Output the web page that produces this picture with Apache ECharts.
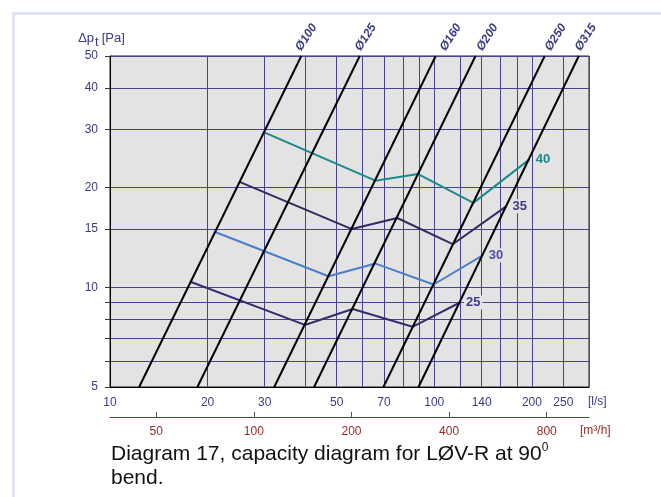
<!DOCTYPE html>
<html><head><meta charset="utf-8">
<script src="https://cdn.jsdelivr.net/npm/echarts@6/dist/echarts.min.js"></script>
<style>html,body{margin:0;padding:0;background:#fff}#c{width:661px;height:497px}</style>
</head><body><div id="c"></div>
<script>
// ---------- data ----------
const xMin = 10, xMax = 300;          // l/s
const yMin = 5, yMax = 50;            // Pa
const xTickValues = [10,20,30,40,50,60,70,80,90,100,120,140,160,180,200,250,300];
const xLabelValues = [10,20,30,50,70,100,140,200,250];
const yTickValues = [5,6,7,8,9,10,15,20,30,40,50];
const yLabelValues = [5,10,15,20,30,40,50];
const m3hLabelValues = [50,100,200,400,800];
const lsToM3h = 3.6;

const diamNames = ['Ø100','Ø125','Ø160','Ø200','Ø250','Ø315'];
const diamFlowAt5Pa  = [12.3, 18.6, 32.1, 42.6, 69.7, 89.4];
const diamFlowAt50Pa = [38.9, 58.9, 101, 134, 219, 279];

const curveNames = ['25','30','35','40'];
const curve25Flow = [17.7, 39.9, 56.0, 85.7, 120];
const curve25Pa   = [10.4, 7.7, 8.6, 7.6, 9.0];
const curve30Flow = [21.1, 47.2, 65.9, 99.5, 141];
const curve30Pa   = [14.7, 10.8, 11.8, 10.2, 12.5];
const curve35Flow = [25.2, 55.7, 76.9, 114, 167];
const curve35Pa   = [20.8, 15.0, 16.2, 13.5, 17.6];
const curve40Flow = [29.9, 65.8, 89.2, 132, 197];
const curve40Pa   = [29.4, 21.0, 22.0, 18.0, 24.4];

// ---------- style ----------
const FONT = '"Liberation Sans", Arial, Helvetica, sans-serif';
const NAVY = '#3b3a85';
const GRIDC = '#464490';
const RED = '#962a2a';
const PLOTBG = '#e3e3e3';
const curveStyles = [
  {line:'#352d6f', label:'#3d3a85'},
  {line:'#4a80c8', label:'#4f4fa5'},
  {line:'#36295f', label:'#3d3a85'},
  {line:'#1a8a8a', label:'#1a8a8a'}
];
const diamLabelDx = [2, 3, 12, 9, 8, 4];

const curveFlows = [curve25Flow, curve30Flow, curve35Flow, curve40Flow];
const curvePas = [curve25Pa, curve30Pa, curve35Pa, curve40Pa];

const chart = echarts.init(document.getElementById('c'), null, {renderer:'canvas'});

const series = [];
curveNames.forEach((n, k) => {
  series.push({
    type:'line', name:'c'+n, xAxisIndex:0, yAxisIndex:0,
    data: curveFlows[k].map((q,i)=>[q, curvePas[k][i]]),
    symbol:'none', showSymbol:false, silent:true, z:3,
    lineStyle:{color:curveStyles[k].line, width:2},
    endLabel:{show:true, formatter:n, color:curveStyles[k].label, fontWeight:'bold',
      fontSize:13, fontFamily:FONT, distance:4, backgroundColor:PLOTBG, padding:[1,2,0,2]}
  });
});
diamNames.forEach((n,i)=>{
  series.push({
    type:'line', name:n, xAxisIndex:0, yAxisIndex:0,
    data:[[diamFlowAt5Pa[i], yMin],[diamFlowAt50Pa[i], yMax]],
    symbol:'none', showSymbol:false, silent:true, z:4,
    lineStyle:{color:'#000', width:2}
  });
});

chart.setOption({
  animation:false,
  backgroundColor:'#fff',
  textStyle:{fontFamily:FONT},
  grid:{left:110, top:56, right:72, bottom:110, show:true, backgroundColor:PLOTBG,
        borderColor:'#222', borderWidth:1, containLabel:false, outerBoundsMode:'none'},
  title:{
    left:106, top:437,
    text:'{m|Diagram 17, capacity diagram for LØV-R at 90}{p|0}\n{m|bend.}',
    textStyle:{fontWeight:'normal', rich:{
      m:{fontSize:21, lineHeight:24, color:'#111', fontWeight:'normal', fontFamily:FONT},
      p:{fontSize:12, lineHeight:12, verticalAlign:'top', color:'#111', fontWeight:'normal', fontFamily:FONT}
    }}
  },
  xAxis:[{
    type:'log', logBase:10, min:xMin, max:xMax, position:'bottom',
    axisLine:{show:true, onZero:false, lineStyle:{color:'#000', width:1}},
    axisTick:{show:false, customValues:xTickValues},
    axisLabel:{customValues:xLabelValues, color:NAVY, fontSize:12, margin:10, fontFamily:FONT},
    splitLine:{show:true, lineStyle:{color:GRIDC, width:1}},
    name:'[l/s]', nameLocation:'end', nameGap:-1,
    nameTextStyle:{color:NAVY, fontSize:12, fontFamily:FONT, verticalAlign:'top', padding:[9,0,0,0]}
  },{
    type:'log', logBase:10, min:xMin*lsToM3h, max:xMax*lsToM3h, position:'bottom', offset:30,
    axisLine:{show:true, onZero:false, lineStyle:{color:RED, width:1}},
    axisTick:{show:true, inside:true, length:5, customValues:m3hLabelValues, lineStyle:{color:'#555'}},
    axisLabel:{customValues:m3hLabelValues, color:RED, fontSize:12, margin:9, fontFamily:FONT},
    splitLine:{show:false},
    name:'[m³/h]', nameLocation:'end', nameGap:-9,
    nameTextStyle:{color:RED, fontSize:12, fontFamily:FONT, verticalAlign:'top', padding:[8,0,0,0]}
  }],
  yAxis:[{
    type:'log', logBase:10, min:yMin, max:yMax,
    axisLine:{show:true, onZero:false, lineStyle:{color:'#000', width:1}},
    axisTick:{show:true, length:5, customValues:yTickValues, lineStyle:{color:'#333'}},
    axisLabel:{customValues:yLabelValues, color:NAVY, fontSize:12, margin:12, fontFamily:FONT},
    splitLine:{show:true, lineStyle:{color:GRIDC, width:1}},
    name:'{d|Δp}{s|t}{d|[Pa]}', nameLocation:'end', nameGap:3,
    nameTextStyle:{padding:[0,17,0,0], rich:{
      d:{color:NAVY, fontSize:13, lineHeight:15, verticalAlign:'top', fontFamily:FONT},
      s:{color:NAVY, fontSize:13, lineHeight:21, padding:[0,3,0,1], fontFamily:FONT}
    }}
  }],
  series: series
});

// diameter labels at the top ends of the lines + outer frame
const gfx = [{type:'rect', z:-10, shape:{x:13.5, y:13.5, width:800, height:700},
              style:{fill:'none', stroke:'#d9def2', lineWidth:2.5}}];
diamNames.forEach((n,i)=>{
  const p = chart.convertToPixel({xAxisIndex:0, yAxisIndex:0}, [diamFlowAt50Pa[i], yMax]);
  gfx.push({type:'text', x:p[0]+diamLabelDx[i], y:p[1]-3, rotation:Math.PI*57/180,
    style:{text:n, fill:NAVY, font:'italic bold 12px '+FONT, align:'left', verticalAlign:'bottom'}});
});
chart.setOption({graphic:gfx});
</script>
</body></html>
